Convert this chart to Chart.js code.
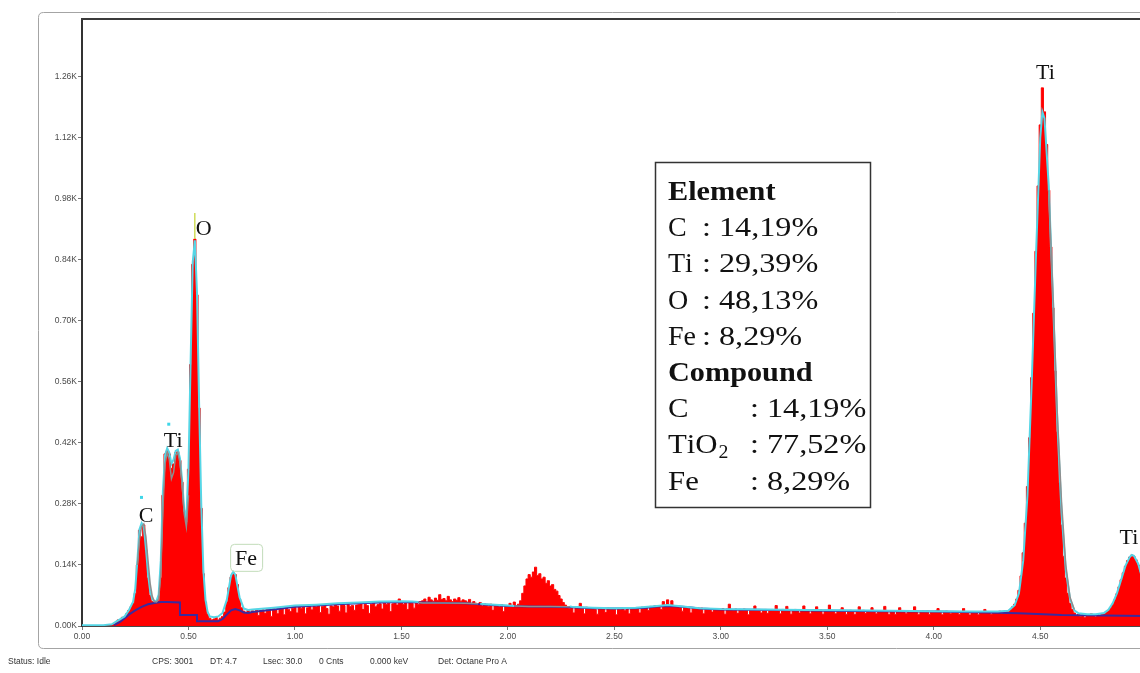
<!DOCTYPE html>
<html>
<head>
<meta charset="utf-8">
<script src="https://cdn.jsdelivr.net/npm/chart.js@4.4.1/dist/chart.umd.min.js"></script>
<style>
  html, body { margin: 0; padding: 0; background: #fff; overflow: hidden; width: 1140px; height: 673px; }
  #wrap { position: absolute; left: 0; top: 0; width: 1180px; height: 673px; }
  canvas { display: block; }
</style>
</head>
<body>
<div id="wrap"><canvas id="eds" width="1180" height="673"></canvas></div>
<script>
// ---- EDS spectrum: counts per 0.01 keV channel, first channel at 0.00 keV ----
const channelStartKeV = 0.0;
const channelWidthKeV = 0.01;
const spectrumCounts = [
  0,0,0,0,0,0,0,0,0,0,                          // 0.00
  0,0,0,0,0,4,8,14,12,20,                       // 0.10
  20,28,36,44,52,75,140,220,205,232,            // 0.20
  175,110,70,56,52,54,58,110,300,395,           // 0.30
  402,395,362,372,398,400,380,330,262,240,      // 0.40
  360,600,830,888,760,500,270,120,55,28,        // 0.50
  18,14,16,20,14,18,22,32,55,88,                // 0.60
  112,122,118,95,62,42,34,30,36,31,             // 0.70
  35,31,38,24,36,37,29,39,36,22,                // 0.80
  40,37,28,41,39,26,42,38,33,41,                // 0.90
  43,30,44,41,45,28,42,44,37,45,                // 1.00
  44,46,31,45,47,40,27,46,44,48,                // 1.10
  46,34,48,47,30,49,45,47,36,48,                // 1.20
  49,51,38,50,47,29,50,52,44,49,                // 1.30
  51,39,53,50,52,33,51,54,48,62,                // 1.40
  53,50,55,38,54,52,41,53,50,56,                // 1.50
  58,62,55,66,60,57,64,59,72,61,                // 1.60
  63,58,68,60,56,62,59,65,57,60,                // 1.70
  58,55,61,50,56,52,48,54,46,51,                // 1.80
  49,45,50,36,48,47,44,49,33,47,                // 1.90
  46,52,47,55,45,50,58,75,92,108,               // 2.00
  118,112,124,135,116,120,108,112,98,104,       // 2.10
  92,95,84,80,70,62,54,48,44,40,                // 2.20
  43,30,44,42,52,41,28,43,40,42,                // 2.30
  41,38,27,42,39,40,31,41,38,40,                // 2.40
  39,26,40,38,41,35,39,28,40,41,                // 2.50
  40,42,30,43,41,44,36,45,43,46,                // 2.60
  45,47,38,56,48,60,47,58,46,44,                // 2.70
  45,43,34,44,42,41,30,42,41,40,                // 2.80
  39,41,28,40,38,39,32,40,37,39,                // 2.90
  38,40,27,39,50,38,36,39,29,38,                // 3.00
  37,39,38,26,37,38,46,36,38,30,                // 3.10
  37,38,29,37,38,36,47,37,28,38,                // 3.20
  36,45,37,27,36,38,37,30,36,46,                // 3.30
  36,37,28,36,35,44,36,37,27,36,                // 3.40
  35,48,36,34,28,35,36,42,35,27,                // 3.50
  35,36,34,26,35,44,34,36,29,35,                // 3.60
  34,42,35,28,34,35,33,45,34,26,                // 3.70
  34,35,27,34,42,33,34,28,35,34,                // 3.80
  33,44,34,26,33,34,32,34,27,33,                // 3.90
  33,34,40,32,26,33,34,33,28,33,                // 4.00
  32,33,27,32,40,33,31,25,32,33,                // 4.10
  32,26,33,32,38,31,33,27,32,33,                // 4.20
  32,34,28,33,35,33,38,44,50,62,                // 4.30
  82,115,168,236,320,432,570,718,860,1010,      // 4.40
  1150,1235,1180,1105,1000,870,730,585,445,330, // 4.50
  232,160,110,75,52,38,30,24,27,22,             // 4.60
  25,19,26,24,28,23,21,26,24,27,                // 4.70
  28,32,36,42,50,60,74,90,106,122,              // 4.80
  137,150,158,163,160,152,140,124,106,88,       // 4.90
  70,55,44,36,31,28,27,26,27,25,                // 5.00
  26                                            // 5.10
];

// ---- fitted spectrum (null = no fit drawn there) ----
const fitKeV = [0.00,0.10,0.14,0.16,0.18,0.20,0.22,0.24,0.25,0.26,0.27,0.28,0.29,0.30,0.31,0.32,0.33,0.34,0.35,0.36,
  0.37,0.38,0.39,0.40,0.41,0.42,0.43,0.44,0.45,0.46,0.47,0.48,0.49,0.50,0.51,0.52,0.53,0.54,0.55,0.56,
  0.57,0.58,0.59,0.60,0.62,0.64,0.66,0.68,0.70,0.71,0.72,0.74,0.76,0.78,0.80,0.90,1.00,1.10,1.20,1.30,
  1.40,1.50,1.55,1.58,1.60,1.87,1.90,2.00,2.03,2.05,2.29,2.30,2.40,2.50,2.60,2.70,2.75,2.80,2.90,3.00,
  3.20,3.40,3.60,3.80,4.00,4.20,4.30,4.35,4.38,4.40,4.42,4.44,4.46,4.48,4.50,4.51,4.52,4.54,4.56,4.58,
  4.60,4.62,4.64,4.66,4.68,4.72,4.76,4.80,4.82,4.84,4.86,4.88,4.90,4.92,4.93,4.94,4.96,4.98,5.00,5.02,
  5.04,5.06,5.10];
const fitCounts = [2,2,4,10,16,22,36,56,85,150,222,236,228,180,120,80,62,57,58,72,
  150,310,392,408,398,372,382,402,405,385,335,268,248,360,605,835,885,765,510,280,
  128,60,32,22,20,22,30,60,116,124,118,66,40,37,38,42,47,49,52,54,
  56,57,56,55,null,51,50,47,46,null,45,44,42,41,42,46,48,46,41,39,
  38,37,36,35,34,33,33,35,48,75,150,300,560,850,1120,1180,1165,1010,750,470,
  260,128,62,36,29,27,27,30,37,52,75,106,138,158,163,161,143,108,72,46,
  33,28,27];

// ---- peak deconvolution trace (null = not drawn) ----
const traceKeV = [0.26,0.27,0.28,0.29,0.30,0.31,0.32,0.33,0.34,0.35,0.36,0.37,0.38,0.39,0.40,0.41,0.42,0.43,0.44,0.45,
  0.46,0.47,0.48,0.49,0.50,0.51,1.58,1.60,1.70,1.80,1.86,1.87,2.03,2.10,2.20,2.29,2.30,
  4.54,4.56,4.58,4.60,4.62,4.64,4.66];
const traceCounts = [140,200,228,234,205,150,98,68,56,55,62,120,270,372,398,382,338,352,392,398,
  376,325,258,228,300,null,54,53,53,52,51,null,46,45,45,44,null,
  1000,760,490,285,140,66,38];

// ---- continuum background ----
const bgKeV = [0.15,0.18,0.20,0.22,0.25,0.28,0.31,0.34,0.37,0.40,0.46,0.46,0.54,0.54,0.64,0.66,0.68,0.70,0.72,0.74,
  0.76,0.78,0.80,0.90,1.00,1.10,1.20,1.30,1.40,1.50,1.60,1.70,1.80,1.90,2.00,2.10,2.20,2.30,2.40,2.50,
  2.60,2.65,2.70,2.75,2.80,2.85,2.90,3.00,3.25,3.50,3.75,4.00,4.25,4.40,4.60,4.80,5.00,5.10];
const bgCounts = [2,10,18,26,36,44,50,53,55,55,54,25,25,11,11,16,26,36,39,36,
  31,30,32,38,44,47,50,52,54,55,54,53,52,49,46,45,44,43,41,40,
  41,42,45,46,45,43,40,38,37,35,34,33,31,29,25,24,23,23];

// ---- axes ----
const xTickKeV = [0, 0.5, 1.0, 1.5, 2.0, 2.5, 3.0, 3.5, 4.0, 4.5];
const xTickLabels = ['0.00','0.50','1.00','1.50','2.00','2.50','3.00','3.50','4.00','4.50'];
const yTickCounts = [0, 140, 280, 420, 560, 700, 840, 980, 1120, 1260];
const yTickLabels = ['0.00K','0.14K','0.28K','0.42K','0.56K','0.70K','0.84K','0.98K','1.12K','1.26K'];

// ---- identified lines ----
const peakLabels = ['C', 'Ti', 'O', 'Fe', 'Ti', 'Ti'];
const peakKeV = [0.277, 0.452, 0.525, 0.705, 4.510, 4.931];

// ---- quantification ----
const elementNames = ['C', 'Ti', 'O', 'Fe'];
const elementPct = ['14,19%', '29,39%', '48,13%', '8,29%'];
const compoundNames = ['C', 'TiO2', 'Fe'];
const compoundPct = ['14,19%', '77,52%', '8,29%'];

// ---- acquisition status line ----
const statusItems = ['Status: Idle', 'CPS: 3001', 'DT: 4.7', 'Lsec: 30.0', '0 Cnts', '0.000 keV', 'Det: Octane Pro A'];

// ------------------------------------------------------------------
const channelKeV = spectrumCounts.map((_, i) => Math.round((channelStartKeV + i * channelWidthKeV) * 100) / 100);
const pts = (xs, ys) => xs.map((x, i) => ({ x: x, y: ys[i] }));

const SANS = '"Liberation Sans", Arial, sans-serif';
const SERIF = '"Liberation Serif", "Times New Roman", serif';

function roundRect(ctx, x, y, w, h, r) {
  ctx.beginPath();
  ctx.moveTo(x + r, y);
  ctx.lineTo(x + w - r, y);
  ctx.quadraticCurveTo(x + w, y, x + w, y + r);
  ctx.lineTo(x + w, y + h - r);
  ctx.quadraticCurveTo(x + w, y + h, x + w - r, y + h);
  ctx.lineTo(x + r, y + h);
  ctx.quadraticCurveTo(x, y + h, x, y + h - r);
  ctx.lineTo(x, y + r);
  ctx.quadraticCurveTo(x, y, x + r, y);
  ctx.closePath();
}

// text drawn with a horizontal stretch, left aligned at (x, y) baseline
function wideText(ctx, str, x, y, font, sx) {
  ctx.save();
  ctx.font = font;
  ctx.translate(x, y);
  ctx.scale(sx, 1);
  ctx.textAlign = 'left';
  ctx.textBaseline = 'alphabetic';
  ctx.fillText(str, 0, 0);
  const w = ctx.measureText(str).width * sx;
  ctx.restore();
  return w;
}

// formula with digits set as subscripts
function formulaText(ctx, str, x, y, size, sx) {
  let cx = x;
  for (const ch of str) {
    if (/[0-9]/.test(ch)) {
      cx += wideText(ctx, ch, cx + 1, y + 5, Math.round(size * 0.65) + 'px ' + SERIF, sx) + 1;
    } else {
      cx += wideText(ctx, ch, cx, y, size + 'px ' + SERIF, sx);
    }
  }
  return cx - x;
}

function peakTop(e) {
  let m = 0;
  channelKeV.forEach((k, i) => { if (Math.abs(k - e) <= 0.0205) m = Math.max(m, spectrumCounts[i]); });
  return m;
}

const labelOffset = [[5, -10], [-5, -12], [10, -11], [14, -15], [3, -16], [-3, -18]];

const decor = {
  id: 'decor',
  beforeDraw(chart) {
    const ctx = chart.ctx;
    ctx.save();
    ctx.fillStyle = '#ffffff';
    ctx.fillRect(0, 0, chart.width, chart.height);
    ctx.strokeStyle = '#a4a4a4';
    ctx.lineWidth = 1;
    roundRect(ctx, 38.5, 12.5, 1240, 636, 5);
    ctx.stroke();
    ctx.restore();
  },
  afterDraw(chart) {
    const ctx = chart.ctx;
    const a = chart.chartArea;
    const xs = chart.scales.x, ys = chart.scales.y;
    ctx.save();

    // top edge of the plot frame
    ctx.strokeStyle = '#3a3a3a';
    ctx.lineWidth = 2;
    ctx.beginPath();
    ctx.moveTo(a.left - 1, a.top);
    ctx.lineTo(a.right + 40, a.top);
    ctx.stroke();

    // line markers
    const px = e => xs.getPixelForValue(e);
    const py = c => ys.getPixelForValue(c);
    ctx.fillStyle = '#3fd6e8';
    ctx.fillRect(px(peakKeV[0]) - 1, py(peakTop(peakKeV[0])) - 29, 3, 3);
    ctx.fillRect(px(peakKeV[1]) - 11, py(peakTop(peakKeV[1])) - 29, 3, 3);
    ctx.strokeStyle = '#cfdc5a';
    ctx.lineWidth = 1.5;
    ctx.beginPath();
    ctx.moveTo(px(peakKeV[2]) + 1, py(peakTop(peakKeV[2])) - 26);
    ctx.lineTo(px(peakKeV[2]) + 1, py(peakTop(peakKeV[2])));
    ctx.stroke();

    // element labels
    ctx.fillStyle = '#111';
    peakLabels.forEach((lab, i) => {
      const cx = px(peakKeV[i]) + labelOffset[i][0];
      const cy = py(peakTop(peakKeV[i])) + labelOffset[i][1];
      ctx.save();
      ctx.font = '20px ' + SERIF;
      const w = ctx.measureText(lab).width * 1.1;
      ctx.restore();
      wideText(ctx, lab, cx - w / 2, cy + 7, '20px ' + SERIF, 1.1);
      if (lab === 'Fe') {
        ctx.strokeStyle = '#c2dcba';
        ctx.lineWidth = 1;
        roundRect(ctx, cx - w / 2 - 4.5, cy - 13.5, w + 10, 27, 4);
        ctx.stroke();
      }
    });

    // quantification box
    ctx.fillStyle = '#ffffff';
    ctx.fillRect(655, 162, 215, 345);
    ctx.strokeStyle = '#333';
    ctx.lineWidth = 1.5;
    ctx.strokeRect(655.5, 162.5, 215, 345);
    ctx.fillStyle = '#111';
    const tx = 668;
    wideText(ctx, 'Element', tx, 200, 'bold 28px ' + SERIF, 1.08);
    elementNames.forEach((n, i) => {
      const by = 236 + i * 36.3;
      formulaText(ctx, n, tx, by, 28, 1.0);
      wideText(ctx, ': ' + elementPct[i], 702, by, '28px ' + SERIF, 1.15);
    });
    wideText(ctx, 'Compound', tx, 381, 'bold 28px ' + SERIF, 1.08);
    compoundNames.forEach((n, i) => {
      const by = 417 + i * 36.3;
      formulaText(ctx, n, tx, by, 28, 1.1);
      wideText(ctx, ': ' + compoundPct[i], 750, by, '28px ' + SERIF, 1.15);
    });

    // status line
    const statusX = [8, 152, 210, 263, 319, 370, 438];
    ctx.fillStyle = '#333';
    statusItems.forEach((s, i) => wideText(ctx, s, statusX[i], 664, '8.5px ' + SANS, 1));

    ctx.restore();
  }
};

new Chart(document.getElementById('eds'), {
  type: 'line',
  data: {
    datasets: [
      { label: 'trace', data: pts(traceKeV, traceCounts), order: 1,
        borderColor: '#8e8e8e', borderWidth: 1.5, pointRadius: 0, fill: false, spanGaps: false },
      { label: 'fit', data: pts(fitKeV, fitCounts), order: 2,
        borderColor: '#55d6e6', borderWidth: 2, pointRadius: 0, fill: false, spanGaps: false },
      { label: 'background', data: pts(bgKeV, bgCounts), order: 3,
        borderColor: '#3b2a9e', borderWidth: 2, pointRadius: 0, fill: false },
      { label: 'spectrum', data: pts(channelKeV, spectrumCounts), order: 4,
        borderColor: '#ff0000', backgroundColor: '#ff0000', borderWidth: 1, pointRadius: 0,
        fill: 'origin', stepped: 'middle' }
    ]
  },
  options: {
    responsive: false,
    animation: false,
    events: [],
    layout: { padding: { left: 0, top: 19, right: 12, bottom: 0 } },
    plugins: { legend: { display: false }, tooltip: { enabled: false } },
    scales: {
      x: {
        type: 'linear', min: 0, max: 5.1,
        afterBuildTicks: s => { s.ticks = xTickKeV.map(v => ({ value: v })); },
        afterFit: s => { s.height = 47; },
        ticks: { autoSkip: false, maxRotation: 0, padding: 2, color: '#4a4a4a',
                 font: { family: SANS, size: 8.5 }, callback: (v, i) => xTickLabels[i] },
        grid: { display: true, drawOnChartArea: false, drawTicks: true, tickLength: 4, tickColor: '#777' },
        border: { display: true, color: '#4a4a4a', width: 2 }
      },
      y: {
        min: 0, max: 1393,
        afterBuildTicks: s => { s.ticks = yTickCounts.map(v => ({ value: v })); },
        afterFit: s => { s.width = 82; },
        ticks: { autoSkip: false, padding: 1, color: '#4a4a4a',
                 font: { family: SANS, size: 8.5 }, callback: (v, i) => yTickLabels[i] },
        grid: { display: true, drawOnChartArea: false, drawTicks: true, tickLength: 4, tickColor: '#777' },
        border: { display: true, color: '#333', width: 2 }
      }
    }
  },
  plugins: [decor]
});
</script>
</body>
</html>
